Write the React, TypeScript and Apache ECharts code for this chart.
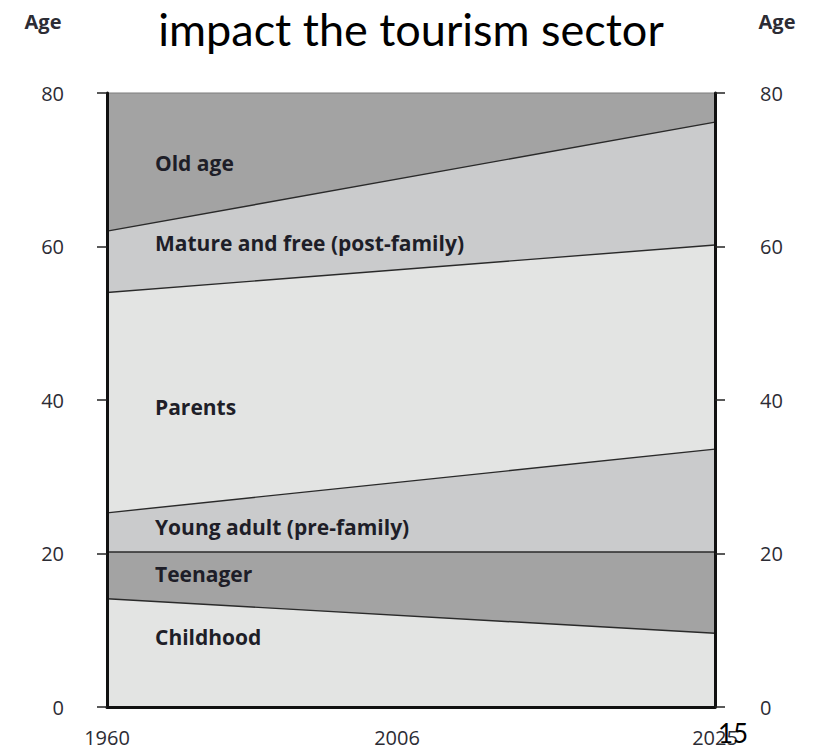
import React, { useEffect, useRef } from "react";
import * as echarts from "echarts";

// x-axis tick labels (schematic: start, middle, end)
const xLabels = ["1960", "2006", "2025"];
// upper boundary (age) of each life stage at 1960 and at 2025
const bandNames = [
  "Old age",
  "Mature and free (post-family)",
  "Parents",
  "Young adult (pre-family)",
  "Teenager",
  "Childhood",
];
const upperStart = [80, 62, 54, 25.3, 20.2, 14.1];
const upperEnd = [80, 76.2, 60.2, 33.6, 20.2, 9.6];
const bandColors = ["#a3a3a3", "#cacbcc", "#e3e4e3", "#cacbcc", "#a3a3a3", "#e3e4e3"];
// label anchor ages (vertical position inside each band)
const labelAges = [70.9, 60.5, 39.1, 23.5, 17.3, 9.1];
const yTicks = [0, 20, 40, 60, 80];

const TXT = "#2c2c34";
const FONT = "'Open Sans', 'Noto Sans', sans-serif";

export default function App() {
  const ref = useRef<HTMLDivElement>(null);
  useEffect(() => {
    if (!ref.current) return;
    const chart = echarts.init(ref.current, undefined, { renderer: "svg" });
    const yAxisBase = (pos: "left" | "right", margin: number) => ({
      type: "value" as const,
      position: pos,
      min: yTicks[0],
      max: yTicks[yTicks.length - 1],
      interval: 20,
      z: 10,
      axisLine: { show: true, lineStyle: { color: "#111", width: 3 } },
      axisTick: { show: true, inside: false, length: 10, lineStyle: { color: "#222", width: 1.5 } },
      splitLine: { show: false },
      axisLabel: { margin, color: TXT, fontSize: 20, fontFamily: FONT },
    });
    chart.setOption({
      animation: false,
      backgroundColor: "#ffffff",
      grid: { left: 107, right: 99, top: 93, bottom: 42, containLabel: false },
      xAxis: {
        type: "category",
        data: xLabels,
        boundaryGap: false,
        z: 10,
        axisLine: { show: true, lineStyle: { color: "#111", width: 3 } },
        axisTick: { show: false },
        axisLabel: {
          margin: 20,
          color: TXT,
          fontSize: 20,
          fontFamily: FONT,
          formatter: (v: string) => (v === xLabels[1] ? `{m|${v}}` : v),
          rich: { m: { fontSize: 20, fontFamily: FONT, color: TXT, padding: [0, 28, 0, 0] } },
        },
      },
      yAxis: [yAxisBase("left", 43), yAxisBase("right", 45)],
      series: bandNames.map((name, i) => ({
        name,
        type: "line",
        yAxisIndex: 0,
        symbol: "none",
        data: [
          [0, upperStart[i]],
          [2, upperEnd[i]],
        ],
        lineStyle: { color: i === 0 ? "#8a8a8a" : "#2a2a2a", width: 1.4 },
        areaStyle: { color: bandColors[i], opacity: 1 },
        z: 2,
      })),
    });

    const texts: any[] = bandNames.map((name, i) => {
      const p = chart.convertToPixel({ xAxisIndex: 0, yAxisIndex: 0 }, [0, labelAges[i]]) as number[];
      return {
        type: "text",
        x: p[0] + 48,
        y: p[1],
        z: 20,
        style: {
          text: name,
          fill: "#1e1e28",
          font: `bold 21px ${FONT}`,
          verticalAlign: "middle",
        },
      };
    });
    texts.push(
      {
        type: "text",
        x: 411,
        y: 29,
        z: 20,
        style: {
          text: "impact the tourism sector",
          fill: "#000",
          font: "45px Lato, 'Open Sans', sans-serif",
          align: "center",
          verticalAlign: "middle",
        },
      },
      {
        type: "text",
        x: 43,
        y: 21,
        z: 20,
        style: { text: "Age", fill: TXT, font: `bold 20px ${FONT}`, align: "center", verticalAlign: "middle" },
      },
      {
        type: "text",
        x: 777,
        y: 21,
        z: 20,
        style: { text: "Age", fill: TXT, font: `bold 20px ${FONT}`, align: "center", verticalAlign: "middle" },
      },
      {
        type: "text",
        x: 733,
        y: 733,
        z: 20,
        style: { text: "15", fill: "#000", font: "26px Lato, sans-serif", align: "center", verticalAlign: "middle" },
      }
    );
    chart.setOption({ graphic: texts });
    return () => chart.dispose();
  }, []);
  return (
    <div
      ref={ref}
      style={{ position: "fixed", left: 0, top: 0, width: 814, height: 749, background: "#fff" }}
    />
  );
}
